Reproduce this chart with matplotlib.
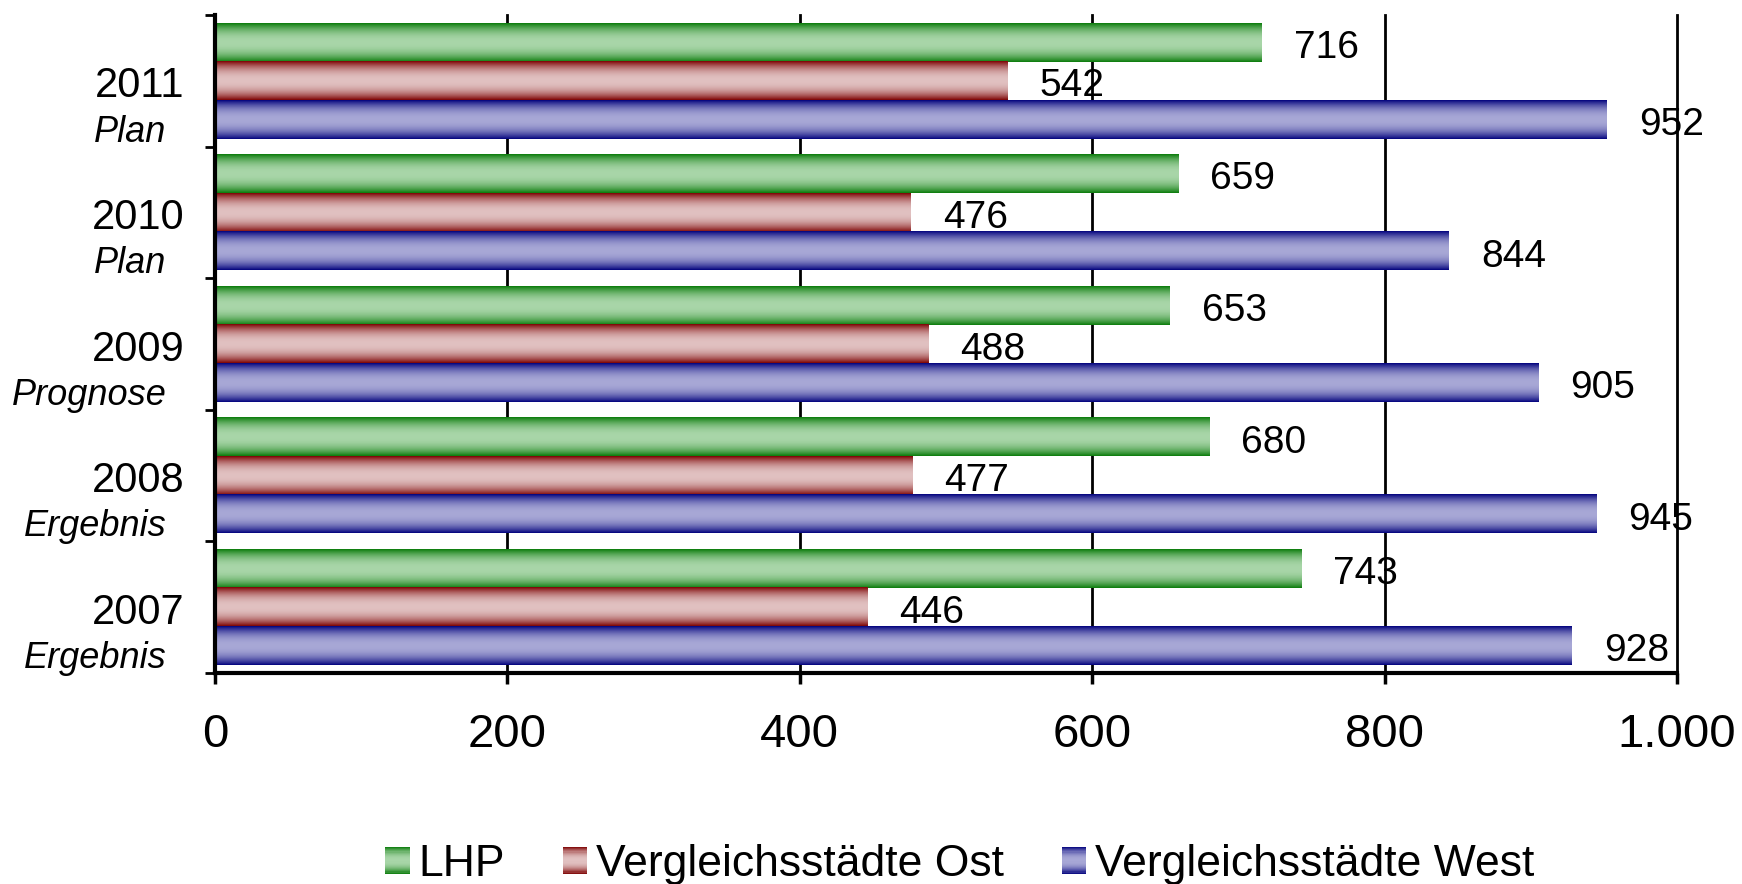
import numpy as np
import matplotlib
matplotlib.use("Agg")
import matplotlib.pyplot as plt
from matplotlib.patches import Rectangle
from matplotlib.legend_handler import HandlerBase
from matplotlib.ticker import FuncFormatter
from matplotlib.colors import to_rgb

plt.rcParams['font.family'] = ['Liberation Sans', 'DejaVu Sans']

# data, bottom to top
years = ['2007', '2008', '2009', '2010', '2011']
stages = ['Ergebnis', 'Ergebnis', 'Prognose', 'Plan', 'Plan']
series = ['LHP', 'Vergleichsstädte Ost', 'Vergleichsstädte West']
lhp = [743, 680, 653, 659, 716]
ost = [446, 477, 488, 476, 542]
west = [928, 945, 905, 844, 952]
x_ticks = [0, 200, 400, 600, 800, 1000]

# (dark edge, light centre)
grads = [('#087a08', '#a9d6a9'), ('#7c0000', '#e1c1c1'), ('#00007c', '#a8a8d6')]


def profile(t):
    return 1 - np.abs(2 * t - 1) ** 2.2


def grad_colors(dark, light, n):
    t = (np.arange(n) + 0.5) / n
    s = profile(t)[:, None]
    d = np.array(to_rgb(dark))
    l = np.array(to_rgb(light))
    return d + (l - d) * s


class GradientHandler(HandlerBase):
    def create_artists(self, legend, orig_handle, xdescent, ydescent,
                       width, height, fontsize, trans):
        n = 24
        cols = grad_colors(*orig_handle.grad, n)[::-1]
        arts = []
        for i in range(n):
            r = Rectangle((-xdescent, -ydescent + i * height / n), width,
                          height / n * 1.1, facecolor=cols[i], edgecolor='none',
                          transform=trans)
            arts.append(r)
        return arts


fig = plt.figure(figsize=(17.42, 8.84), dpi=100)
ax = fig.add_axes([215 / 1742, 1 - 673 / 884, (1677 - 215) / 1742, (673 - 15) / 884])

y = np.arange(len(years)) + 0.5
h = 0.293
offsets = [h, 0, -h]
values = [lhp, ost, west]

for vals, off, (dark, light) in zip(values, offsets, grads):
    bars = ax.barh(y + off, vals, height=h, color='none', edgecolor='none', zorder=3)
    img = grad_colors(dark, light, 64)[:, None, :]
    for b, v in zip(bars, vals):
        x0, y0, w, hh = b.get_x(), b.get_y(), b.get_width(), b.get_height()
        ax.imshow(img, extent=[x0, x0 + w, y0, y0 + hh], aspect='auto',
                  origin='upper', interpolation='bilinear', zorder=3)
        ax.annotate(f'{v}', xy=(x0 + w, y0 + hh / 2), xytext=(23, -4),
                    textcoords='offset points', ha='left', va='center',
                    fontsize=28, zorder=4)

ax.set_xlim(0, 1000)
ax.set_ylim(0, 5)
ax.set_xticks(x_ticks)
ax.xaxis.set_major_formatter(FuncFormatter(lambda v, p: f'{int(v):,}'.replace(',', '.')))
ax.set_yticks(range(6))
ax.set_yticklabels([])
ax.tick_params(axis='x', direction='out', length=8, width=2.5, labelsize=34, pad=21)
ax.tick_params(axis='y', direction='out', length=7, width=2, pad=0)
ax.grid(axis='x', color='black', linewidth=2, zorder=1)
for gl in ax.get_xgridlines():
    gl.set_clip_on(False)
ax.set_axisbelow(True)
for s in ['top', 'right']:
    ax.spines[s].set_visible(False)
for s in ['left', 'bottom']:
    ax.spines[s].set_linewidth(3)
    ax.spines[s].set_zorder(5)

for yy, yr, st in zip(y, years, stages):
    ax.annotate(yr, xy=(0, yy), xycoords=('axes fraction', 'data'),
                xytext=(-22, -4), textcoords='offset points',
                ha='right', va='center', fontsize=30)
    ax.annotate(st, xy=(0, yy), xycoords=('axes fraction', 'data'),
                xytext=(-35, -37), textcoords='offset points',
                ha='right', va='center', fontsize=26, style='italic')

handles = []
for g in grads:
    r = Rectangle((0, 0), 1, 1)
    r.grad = g
    handles.append(r)
fig.legend(handles, series, loc='center', bbox_to_anchor=(0.551, 0.022),
           ncol=3, frameon=False, fontsize=32, handlelength=0.55, handleheight=0.55,
           handletextpad=0.2, columnspacing=1.3, borderpad=0,
           handler_map={hd: GradientHandler() for hd in handles})

fig.savefig('out.png', dpi=100)
